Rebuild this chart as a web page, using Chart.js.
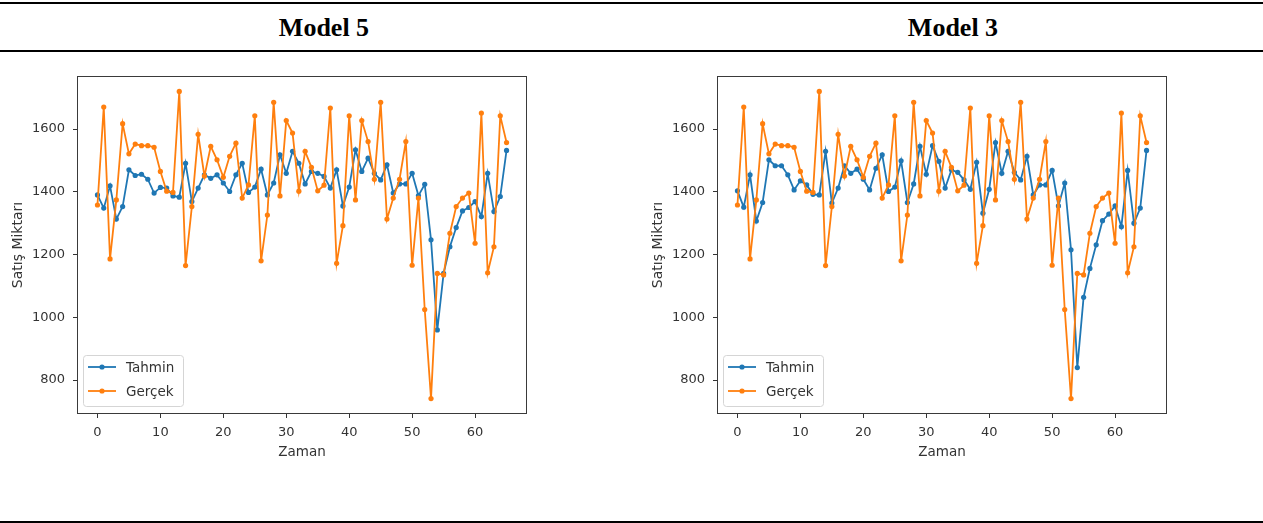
<!DOCTYPE html>
<html>
<head>
<meta charset="utf-8">
<script src="https://cdn.jsdelivr.net/npm/chart.js@4.4.1/dist/chart.umd.min.js"></script>
<style>
  body { margin: 0; background: #fff; }
  #page { position: relative; width: 1263px; height: 523px; overflow: hidden; }
  .rule { position: absolute; left: 0; width: 1263px; height: 2px; background: #000; }
  .head { position: absolute; top: 15px; font: bold 26px 'Liberation Serif', 'Times New Roman', serif; line-height: 26px; text-align: center; color: #000; }
  canvas { position: absolute; top: 60px; }
</style>
</head>
<body>
<div id="page">
  <div class="rule" style="top:2px"></div>
  <div class="head" style="left:0; width:648px">Model 5</div>
  <div class="head" style="left:640px; width:626px">Model 3</div>
  <div class="rule" style="top:50px"></div>
  <canvas id="grafico5" width="540" height="420" style="left:0"></canvas>
  <canvas id="grafico3" width="540" height="420" style="left:640px"></canvas>
  <div class="rule" style="top:521px"></div>
</div>
<script>
const zaman = [0, 1, 2, 3, 4, 5, 6, 7, 8, 9, 10, 11, 12, 13, 14, 15, 16, 17, 18, 19, 20, 21,
  22, 23, 24, 25, 26, 27, 28, 29, 30, 31, 32, 33, 34, 35, 36, 37, 38, 39, 40, 41, 42, 43,
  44, 45, 46, 47, 48, 49, 50, 51, 52, 53, 54, 55, 56, 57, 58, 59, 60, 61, 62, 63, 64, 65];

const gercek = [1358, 1670, 1186, 1374, 1617, 1521, 1552, 1547, 1547, 1542, 1465, 1402, 1398,
  1720, 1165, 1353, 1583, 1450, 1545, 1502, 1446, 1513, 1555, 1380, 1422, 1642, 1180, 1326,
  1685, 1387, 1627, 1587, 1402, 1529, 1478, 1403, 1421, 1667, 1172, 1292, 1642, 1374, 1627,
  1560, 1440, 1685, 1313, 1380, 1440, 1560, 1166, 1380, 1025, 741, 1140, 1135, 1268, 1353,
  1380, 1396, 1236, 1651, 1142, 1225, 1642, 1557];

const tahminModel5 = [1390, 1348, 1419, 1313, 1353, 1470, 1452, 1456, 1440, 1396, 1414, 1412,
  1387, 1383, 1491, 1369, 1412, 1454, 1443, 1454, 1428, 1401, 1454, 1491, 1398, 1415, 1472,
  1390, 1428, 1518, 1459, 1529, 1491, 1425, 1465, 1459, 1449, 1412, 1470, 1355, 1415, 1534,
  1465, 1507, 1459, 1438, 1486, 1396, 1425, 1425, 1459, 1388, 1424, 1247, 960, 1140, 1225,
  1286, 1339, 1350, 1369, 1321, 1459, 1337, 1385, 1532];

const tahminModel3 = [1403, 1351, 1454, 1307, 1366, 1502, 1483, 1483, 1454, 1406, 1435, 1422,
  1392, 1390, 1529, 1364, 1412, 1483, 1459, 1472, 1440, 1406, 1475, 1518, 1401, 1415, 1499,
  1366, 1425, 1545, 1456, 1547, 1497, 1412, 1470, 1462, 1438, 1408, 1494, 1332, 1408, 1557,
  1459, 1529, 1462, 1438, 1513, 1390, 1422, 1422, 1468, 1355, 1428, 1215, 840, 1064, 1156,
  1231, 1308, 1329, 1355, 1289, 1468, 1300, 1348, 1532];

const xTicks = [0, 10, 20, 30, 40, 50, 60];
const yTicks = [800, 1000, 1200, 1400, 1600];

const fonte = "'DejaVu Sans', sans-serif";
const corTexto = '#333';

// matplotlib-style frame round the plot area
const moldura = {
  id: 'moldura',
  afterDatasetsDraw(chart) {
    const { ctx, chartArea: a } = chart;
    ctx.save();
    ctx.strokeStyle = '#3a3a3a';
    ctx.lineWidth = 1;
    ctx.strokeRect(a.left + 0.5, a.top + 0.5, a.width - 1, a.height - 1);
    ctx.restore();
  }
};

// legend box in the lower left corner
const legenda = {
  id: 'legenda',
  afterDraw(chart) {
    const { ctx, chartArea: a } = chart;
    const w = 100, h = 51;
    const x = a.left + 6, y = a.bottom - 8 - h;
    ctx.save();
    ctx.beginPath();
    ctx.roundRect(x + 0.5, y + 0.5, w, h, 3);
    ctx.fillStyle = 'rgba(255,255,255,0.8)';
    ctx.fill();
    ctx.strokeStyle = '#d5d5d5';
    ctx.lineWidth = 1;
    ctx.stroke();
    chart.data.datasets.forEach((ds, i) => {
      const ly = y + 12 + i * 24;
      ctx.strokeStyle = ds.borderColor;
      ctx.lineWidth = 1.8;
      ctx.beginPath();
      ctx.moveTo(x + 5, ly);
      ctx.lineTo(x + 33, ly);
      ctx.stroke();
      ctx.fillStyle = ds.borderColor;
      ctx.beginPath();
      ctx.arc(x + 19, ly, 2.6, 0, Math.PI * 2);
      ctx.fill();
      ctx.fillStyle = corTexto;
      ctx.font = '13.5px ' + fonte;
      ctx.textBaseline = 'middle';
      ctx.fillText(ds.label, x + 43, ly + 1);
    });
    ctx.restore();
  }
};

function serie(valores) {
  return zaman.map((z, i) => ({ x: z, y: valores[i] }));
}

function desenha(id, tahmin) {
  const ctx = document.getElementById(id);
  return new Chart(ctx, {
    type: 'line',
    data: {
      datasets: [{
        label: 'Tahmin',
        data: serie(tahmin),
        borderColor: '#1f77b4',
        backgroundColor: '#1f77b4',
        pointBackgroundColor: '#1f77b4',
        borderWidth: 1.8,
        pointRadius: 2.6,
        pointBorderWidth: 0,
        order: 1
      }, {
        label: 'Gerçek',
        data: serie(gercek),
        borderColor: '#ff7f0e',
        backgroundColor: '#ff7f0e',
        pointBackgroundColor: '#ff7f0e',
        borderWidth: 1.8,
        pointRadius: 2.6,
        pointBorderWidth: 0,
        order: 0
      }]
    },
    options: {
      responsive: false,
      animation: false,
      layout: { padding: { left: 0, top: 16, right: 13, bottom: 0 } },
      plugins: {
        legend: { display: false },
        tooltip: { enabled: false }
      },
      scales: {
        x: {
          type: 'linear',
          min: -3.25,
          max: 68.25,
          afterBuildTicks: (axis) => { axis.ticks = xTicks.map(v => ({ value: v })); },
          afterFit: (scale) => { scale.height = 66; },
          grid: { drawOnChartArea: false, drawTicks: true, tickLength: 4, color: '#333' },
          border: { display: false },
          ticks: { padding: 7, color: corTexto, font: { family: fonte, size: 13 }, maxRotation: 0, callback: v => String(v) },
          title: { display: true, text: 'Zaman', color: corTexto, font: { family: fonte, size: 13.5 }, padding: { top: 0, bottom: 19 } }
        },
        y: {
          min: 692,
          max: 1769,
          afterBuildTicks: (axis) => { axis.ticks = yTicks.map(v => ({ value: v })); },
          afterFit: (scale) => { scale.width = 77; },
          grid: { drawOnChartArea: false, drawTicks: true, tickLength: 4, color: '#333' },
          border: { display: false },
          ticks: { padding: 8, color: corTexto, font: { family: fonte, size: 13 }, callback: v => String(v) },
          title: { display: true, text: 'Satış Miktarı', color: corTexto, font: { family: fonte, size: 14 }, padding: { top: 10, bottom: 0 } }
        }
      }
    },
    plugins: [moldura, legenda]
  });
}

desenha('grafico5', tahminModel5);
desenha('grafico3', tahminModel3);
</script>
</body>
</html>
